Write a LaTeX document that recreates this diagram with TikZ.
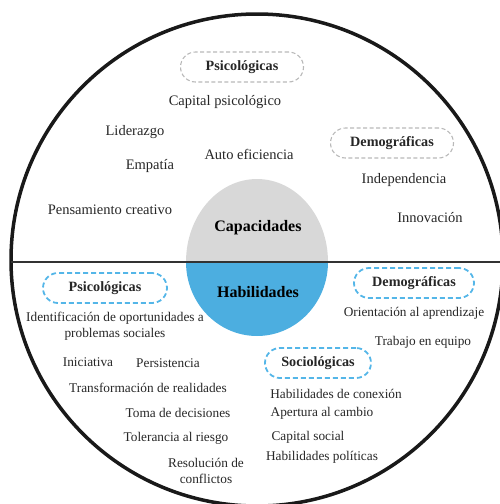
\documentclass[tikz,border=0pt]{standalone}
\usepackage{fontspec}
\setmainfont{Liberation Serif}
\usepackage{xcolor}
\definecolor{capgray}{RGB}{216,216,216}
\definecolor{habblue}{RGB}{76,174,224}
\definecolor{dashgray}{RGB}{185,185,185}
\definecolor{dashblue}{RGB}{84,182,232}

\begin{document}
\begin{tikzpicture}[x = 1pt, y = -1pt]
        \tikzstyle{every node} = [inner sep = 0pt, text = black!85, font = \fontsize{14.5}{16.5}\selectfont]
        \tikzstyle{abajo} = [font = \fontsize{13.3}{15.5}\selectfont]
        \tikzstyle{grupo} = [rounded corners = 15pt, minimum height = 30pt, font = \fontsize{14.2}{16}\selectfont\bfseries]
        \tikzstyle{grupo gris} = [grupo, draw = dashgray, line width = 1.1pt, dash pattern = on 4pt off 2.5pt]
        \tikzstyle{grupo azul} = [grupo, draw = dashblue, line width = 1.8pt, dash pattern = on 5pt off 3pt]
        \tikzstyle{centro} = [font = \fontsize{16}{18}\selectfont\bfseries, text = black]
        \useasboundingbox (0, 0) rectangle (500, 504);

        % fondo
        \fill[capgray] (186, 262) arc[start angle = 180, end angle = 360, x radius = 71, y radius = 83] -- cycle;
        \fill[habblue] (186, 262) arc[start angle = 180, end angle = 0, x radius = 71, y radius = 74] -- cycle;
        \draw[line width = 3.5pt, black!90] (257, 260) circle[radius = 246];
        \coordinate (izq) at (11, 262);
        \coordinate (der) at (503, 262);
        \draw[line width = 1.6pt, black!80] (izq) -- (der);

        \node(Capacidades)[centro] at (258, 228) {Capacidades};
        \node(Habilidades)[centro] at (258, 292) {Habilidades};

        % capacidades
        \node(Psico1)[grupo gris, minimum width = 123pt] at (242, 67) {Psicológicas};
        \node(CapPsico) at (225, 102) {Capital psicológico};
        \node(Liderazgo) at (135, 132) {Liderazgo};
        \node(AutoEf) at (249, 154) {Auto eficiencia};
        \node(Empatia) at (150, 166) {Empatía};
        \node(Pensamiento) at (110, 210) {Pensamiento creativo};

        \node(Demo1)[grupo gris, minimum width = 123pt] at (392, 143) {Demográficas};
        \node(Independencia) at (404, 180) {Independencia};
        \node(Innovacion) at (430, 218) {Innovación};

        % habilidades
        \node(Psico2)[grupo azul, minimum width = 124pt] at (105, 288) {Psicológicas};
        \node(Identif)[abajo, align = center] at (115, 326) {Identificación de oportunidades a\\problemas sociales};
        \node(Iniciativa)[abajo] at (88, 362) {Iniciativa};
        \node(Persistencia)[abajo] at (168, 363) {Persistencia};
        \node(Transf)[abajo] at (148, 388) {Transformación de realidades};
        \node(Toma)[abajo] at (178, 413) {Toma de decisiones};
        \node(Tolerancia)[abajo] at (176, 438) {Tolerancia al riesgo};
        \node(Resolucion)[abajo, align = center] at (206, 471) {Resolución de\\conflictos};

        \node(Demo2)[grupo azul, minimum width = 120pt] at (414, 283) {Demográficas};
        \node(Orientacion)[abajo] at (414, 313) {Orientación al aprendizaje};
        \node(Trabajo)[abajo] at (423, 342) {Trabajo en equipo};

        \node(Socio)[grupo azul, minimum width = 106pt] at (318, 363) {Sociológicas};
        \node(Conexion)[abajo] at (336, 394) {Habilidades de conexión};
        \node(Apertura)[abajo] at (322, 413) {Apertura al cambio};
        \node(CapSocial)[abajo] at (308, 437) {Capital social};
        \node(Politicas)[abajo] at (322, 457) {Habilidades políticas};
\end{tikzpicture}
\end{document}
